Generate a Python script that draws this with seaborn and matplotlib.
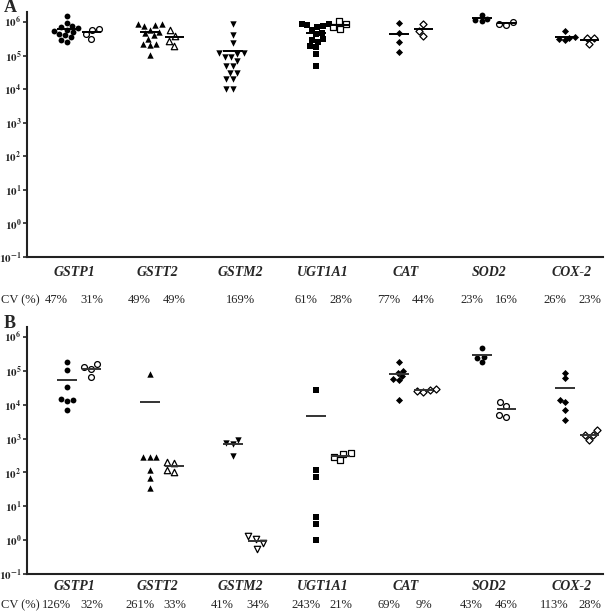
import warnings
import numpy as np
import pandas as pd
import matplotlib
matplotlib.use('Agg')
import matplotlib.pyplot as plt
import matplotlib.transforms as mtransforms
import seaborn as sns

warnings.filterwarnings('ignore')

genes = ['GSTP1', 'GSTT2', 'GSTM2', 'UGT1A1', 'CAT', 'SOD2', 'COX-2']

# panel A
a_filled = [
    [1.5e6, 9.5e5, 7.5e5, 7e5, 6.5e5, 6e5, 5.5e5, 5e5, 4.5e5, 4e5, 3.5e5, 3e5, 2.6e5],
    [9e5, 8.7e5, 8e5, 7.5e5, 6e5, 5e5, 4.7e5, 4e5, 3.2e5, 2.2e5, 2.1e5, 2.2e5, 1.05e5],
    [8.9e5, 4.1e5, 2.3e5, 1.2e5, 1.2e5, 1.15e5, 9.3e4, 9e4, 7e4, 5e4, 5e4, 3.1e4, 3e4, 2e4, 2e4, 1e4, 1e4],
    [9e5, 8.7e5, 8e5, 7.6e5, 7.3e5, 6e5, 4.7e5, 4.4e5, 3.2e5, 3e5, 2.6e5, 2e5, 1.8e5, 1.1e5, 5e4],
    [9.3e5, 4.7e5, 2.6e5, 1.3e5],
    [1.65e6, 1.25e6, 1.15e6, 1.1e6],
    [5.3e5, 3.6e5, 3.4e5, 3.2e5, 3e5],
]
a_open = [
    [6.2e5, 6e5, 4.4e5, 3.1e5],
    [5.9e5, 3.9e5, 2.8e5, 1.9e5],
    [],
    [1.1e6, 8.9e5, 7.3e5, 6.3e5],
    [8.9e5, 5.3e5, 3.9e5],
    [1e6, 8.2e5, 9e5],
    [3.3e5, 3.3e5, 2.2e5],
]
a_cv_filled = ['47%', '49%', '169%', '61%', '77%', '23%', '26%']
a_cv_open = ['31%', '49%', '', '28%', '44%', '16%', '23%']

# panel B
b_filled = [
    [1.8e5, 1.05e5, 3.3e4, 1.5e4, 1.3e4, 1.4e4, 7e3],
    [8.4e4, 2.8e2, 2.8e2, 2.8e2, 1.2e2, 69, 35],
    [7.5e2, 7e2, 9.4e2, 3e2],
    [2.8e4, 1.2e2, 74, 5, 3, 1],
    [1.9e5, 1e5, 8.5e4, 7e4, 5.8e4, 5.5e4, 1.4e4],
    [4.8e5, 2.6e5, 2.4e5, 1.8e5],
    [9e4, 6.3e4, 1.4e4, 1.2e4, 6.8e3, 3.6e3],
]
b_open = [
    [1.3e5, 1.17e5, 1.56e5, 6.7e4],
    [2.1e2, 1.9e2, 1e2, 1.15e2],
    [1.3, 1.1, 0.83, 0.56],
    [3.7e2, 3.6e2, 2.9e2, 2.3e2],
    [2.8e4, 2.6e4, 3e4, 2.4e4],
    [1.2e4, 9.5e3, 5e3, 4.4e3],
    [1.75e3, 1.25e3, 1.3e3, 9e2],
]
b_cv_filled = ['126%', '261%', '41%', '243%', '69%', '43%', '113%']
b_cv_open = ['32%', '33%', '34%', '21%', '9%', '46%', '28%']

markers = ['o', '^', 'v', 's', 'D', 'o', 'D']
msize = [4.2, 4.6, 4.6, 4.2, 3.6, 4.2, 3.6]

sns.set_style('white')
plt.rcParams['font.family'] = ['Liberation Serif', 'DejaVu Serif']
plt.rcParams['mathtext.fontset'] = 'stix'


def to_long(filled, opened):
    rows = []
    for i, g in enumerate(genes):
        for v in filled[i]:
            rows.append((g, 'filled', v))
        for v in opened[i]:
            rows.append((g, 'open', v))
    df = pd.DataFrame(rows, columns=['gene', 'group', 'value'])
    df['pos'] = df['gene'].map({g: i for i, g in enumerate(genes)}) + \
        df['group'].map({'filled': -0.15, 'open': 0.15})
    return df


def panel(ax, df, cv_f, cv_o, letter, lab_y, cv_y, line_col):
    for i, g in enumerate(genes):
        for grp in ['filled', 'open']:
            sub = df[(df.gene == g) & (df.group == grp)]
            if len(sub) == 0:
                continue
            if grp == 'filled':
                kw = dict(color='black', linewidth=0)
            else:
                kw = dict(color='white', edgecolor='black', linewidth=0.9)
            sns.swarmplot(data=sub, x='pos', y='value', native_scale=True, orient='x',
                          marker=markers[i], size=msize[i], ax=ax, **kw)
            p = sub['pos'].iloc[0]
            ax.hlines(sub['value'].mean(), p - 0.12, p + 0.12, color=line_col, lw=1.4, zorder=5)
    ax.set_yscale('log')
    ax.set_ylim(10 ** -1, 10 ** 6.3)
    ax.set_xlim(-0.627, 6.313)
    ax.set_yticks([10.0 ** k for k in range(-1, 7)])
    ax.set_yticklabels([r'$\mathbf{10^{%d}}$' % k for k in range(-1, 7)], fontsize=8)
    ax.yaxis.set_minor_locator(matplotlib.ticker.NullLocator())
    ax.set_xticks([])
    ax.set_xlabel('')
    ax.set_ylabel('')
    ax.tick_params(axis='y', length=3, width=1.2, pad=1, left=True)
    for s in ['top', 'right']:
        ax.spines[s].set_visible(False)
    for s in ['left', 'bottom']:
        ax.spines[s].set_color('#222222')
        ax.spines[s].set_linewidth(1.5)
    tr = mtransforms.blended_transform_factory(ax.transData, fig.transFigure)
    for i, g in enumerate(genes):
        ax.text(i - 0.06, lab_y, g, transform=tr, ha='center', va='center',
                fontsize=10, fontweight='bold', fontstyle='italic')
        if cv_o[i]:
            ax.text(i - 0.27, cv_y, cv_f[i], transform=tr, ha='center', va='center', fontsize=9)
            ax.text(i + 0.15, cv_y, cv_o[i], transform=tr, ha='center', va='center', fontsize=9)
        else:
            ax.text(i - 0.06, cv_y, cv_f[i], transform=tr, ha='center', va='center', fontsize=9)
    fig.text(20 / 609, cv_y, 'CV (%)', ha='center', va='center', fontsize=9)
    fig.text(4 / 609, ax.get_position().y1 + 4 / 612, letter, ha='left', va='center',
             fontsize=13, fontweight='bold')


fig = plt.figure(figsize=(6.09, 6.12), dpi=100)
axA = fig.add_axes([27 / 609, 1 - 257 / 612, 576 / 609, 245 / 612])
axB = fig.add_axes([27 / 609, 1 - 574 / 612, 576 / 609, 247 / 612])

panel(axA, to_long(a_filled, a_open), a_cv_filled, a_cv_open, 'A',
      1 - 272 / 612, 1 - 300 / 612, 'black')
panel(axB, to_long(b_filled, b_open), b_cv_filled, b_cv_open, 'B',
      1 - 586 / 612, 1 - 605 / 612, '#333333')

fig.savefig('out.png', dpi=100)
